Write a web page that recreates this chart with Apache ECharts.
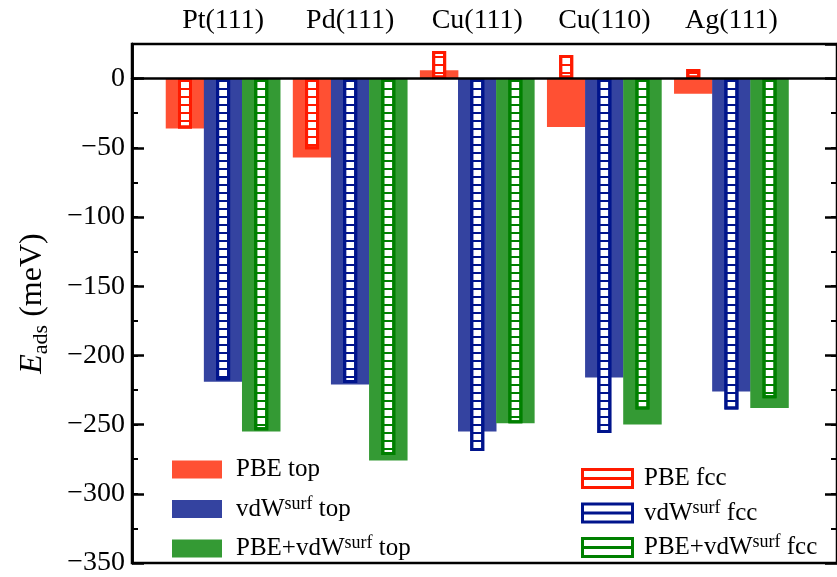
<!DOCTYPE html>
<html>
<head>
<meta charset="utf-8">
<script src="https://cdn.jsdelivr.net/npm/echarts@6/dist/echarts.min.js"></script>
<style>html,body{margin:0;padding:0;background:#fff;}#chart{width:837px;height:577px;}</style>
</head>
<body>
<div id="chart"></div>
<script>
// ---- data ----
const categories = ['Pt(111)', 'Pd(111)', 'Cu(111)', 'Cu(110)', 'Ag(111)'];
const groupPositions = [1, 2, 3, 4, 5];
const pbeTop    = [-36, -57, 6, -35, -11];
const pbeFcc    = [-36, -51, 20, 17, 7];
const vdwTop    = [-219, -221, -255, -216, -226];
const vdwFcc    = [-218, -220, -269, -256, -239];
const pbeVdwTop = [-255, -276, -249, -250, -238];
const pbeVdwFcc = [-254, -272, -249, -239, -231];
const yMin = -350, yMax = 25, yStep = 50, yMinorStep = 25;
const seriesNames = ['PBE top', 'vdWsurf top', 'PBE+vdWsurf top', 'PBE fcc', 'vdWsurf fcc', 'PBE+vdWsurf fcc'];

// ---- style ----
const FONT = 'Liberation Serif';
const X_MIN = 0.283, X_MAX = 5.831;
const OFFSETS = [-0.3, 0, 0.3];
const WIDE_W = 38.5, NARROW_W = 14;
const fillColors = ['#ff5033', '#3443a0', '#349a34'];
const edgeColors = ['#ff1a00', '#00148c', '#008000'];

const chart = echarts.init(document.getElementById('chart'), null, {renderer: 'canvas'});

function hiddenX() {
  return {type: 'value', min: X_MIN, max: X_MAX, show: false, gridIndex: 0, splitLine: {show: false}};
}

const xAxes = [
  { // visible top axis with category labels
    type: 'value', min: X_MIN, max: X_MAX, position: 'top',
    axisLine: {show: false},
    axisTick: {show: true, inside: true, length: 12, customValues: groupPositions,
               lineStyle: {color: '#000', width: 2.5}},
    axisLabel: {show: true, customValues: groupPositions, margin: 9,
                formatter: v => categories[Math.round(v) - 1] || '',
                fontFamily: FONT, fontSize: 28, color: '#000'},
    splitLine: {show: false}
  },
  { // zero line
    type: 'value', min: X_MIN, max: X_MAX, position: 'bottom', z: 10,
    axisLine: {show: true, onZero: true, lineStyle: {color: '#000', width: 2.5}},
    axisTick: {show: false}, axisLabel: {show: false}, splitLine: {show: false}
  }
];
for (let k = 0; k < 6; k++) xAxes.push(hiddenX());

function ticksAxis(pos, step, len, labels) {
  return {
    type: 'value', min: yMin, max: yMax, interval: step, position: pos,
    axisLine: {show: true, onZero: false, lineStyle: {color: '#000', width: 2.5}},
    axisTick: {show: true, inside: true, length: len, lineStyle: {color: '#000', width: len > 8 ? 2.5 : 2}},
    axisLabel: labels ? {
      show: true, margin: 7, showMaxLabel: false,
      formatter: v => v < 0 ? '\u2212' + Math.abs(v) : String(v),
      fontFamily: FONT, fontSize: 28, color: '#000'
    } : {show: false},
    splitLine: {show: false}
  };
}
const yAxes = [
  ticksAxis('left', yStep, 12, true),
  ticksAxis('left', yMinorStep, 6, false),
  ticksAxis('right', yStep, 12, false),
  ticksAxis('right', yMinorStep, 6, false)
];
Object.assign(yAxes[0], {
  name: '{i|E}{s|ads}{n| (meV)}', nameLocation: 'middle', nameRotate: 90, nameGap: 80,
  nameTextStyle: {
    fontFamily: FONT, color: '#000',
    rich: {
      i: {fontFamily: FONT, fontStyle: 'italic', fontSize: 32, lineHeight: 38, color: '#000'},
      s: {fontFamily: FONT, fontSize: 22, lineHeight: 20, verticalAlign: 'bottom', color: '#000'},
      n: {fontFamily: FONT, fontSize: 32, lineHeight: 38, color: '#000'}
    }
  }
});

const topSets = [pbeTop, vdwTop, pbeVdwTop];
const fccSets = [pbeFcc, vdwFcc, pbeVdwFcc];
const series = [];
topSets.forEach((vals, k) => {
  series.push({
    name: seriesNames[k], type: 'bar', xAxisIndex: 2 + k, yAxisIndex: 0,
    barWidth: WIDE_W, z: 2,
    itemStyle: {color: fillColors[k]},
    data: groupPositions.map((p, i) => [p + OFFSETS[k], vals[i]])
  });
});
fccSets.forEach((vals, k) => {
  series.push({
    name: seriesNames[3 + k], type: 'bar', xAxisIndex: 5 + k, yAxisIndex: 0,
    barWidth: NARROW_W, z: 3,
    itemStyle: {
      color: '#ffffff', borderColor: edgeColors[k], borderWidth: 3,
      decal: {symbol: 'rect', symbolSize: 1, dashArrayX: [1, 0], dashArrayY: [1.6, 5.1],
              rotation: 0, color: edgeColors[k]}
    },
    data: groupPositions.map((p, i) => [p + OFFSETS[k], vals[i]])
  });
});

function legendFmt(name) {
  const parts = name.split('surf');
  if (parts.length === 1) return '{n|' + name + '}';
  return '{n|' + parts[0] + '}{s|surf}{n|' + parts[1] + '}';
}
const legendRich = {
  n: {fontFamily: FONT, fontSize: 25, lineHeight: 28, color: '#000'},
  s: {fontFamily: FONT, fontSize: 18, lineHeight: 17, verticalAlign: 'top', color: '#000'}
};
const fccIcon = 'path://M0,0L50,0L50,18L0,18ZM0,9L50,9';

chart.setOption({
  animation: false,
  backgroundColor: '#fff',
  grid: {left: 132, right: -7, top: 44, bottom: 8, show: true, borderColor: '#000', borderWidth: 2.5, backgroundColor: 'transparent'},
  xAxis: xAxes,
  yAxis: yAxes,
  legend: [
    {
      orient: 'vertical', left: 167, top: 452, itemWidth: 50, itemHeight: 18, itemGap: 13,
      selectedMode: false,
      data: seriesNames.slice(0, 3).map((n, k) => ({name: n, icon: 'rect',
        itemStyle: {color: fillColors[k], borderWidth: 0, decal: 'none'}})),
      formatter: legendFmt,
      textStyle: {fontFamily: FONT, fontSize: 25, color: '#000', padding: [0, 0, 0, 9], rich: legendRich}
    },
    {
      orient: 'vertical', left: 576, top: 461, itemWidth: 51, itemHeight: 18, itemGap: 8,
      selectedMode: false,
      data: seriesNames.slice(3).map((n, k) => ({name: n, icon: fccIcon,
        itemStyle: {color: '#ffffff', borderColor: edgeColors[k], borderWidth: 3, decal: 'none'}})),
      formatter: legendFmt,
      textStyle: {fontFamily: FONT, fontSize: 25, color: '#000', padding: [0, 0, 0, 6], rich: legendRich}
    }
  ],
  series: series
});
</script>
</body>
</html>
